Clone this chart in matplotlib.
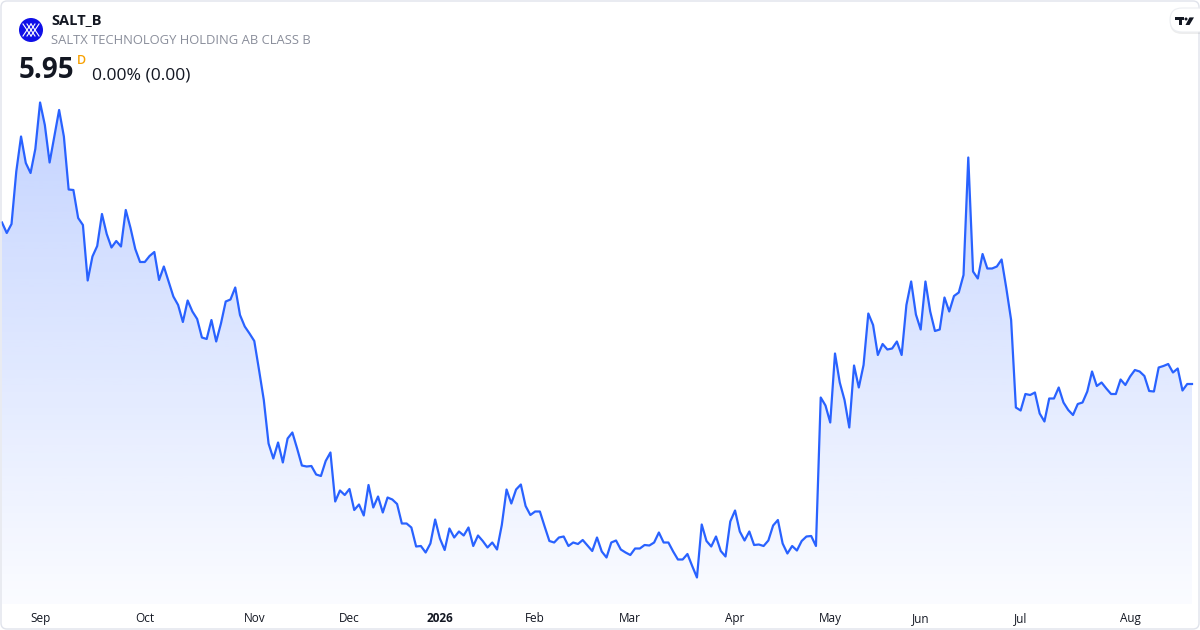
import numpy as np
import matplotlib
matplotlib.use("Agg")
import matplotlib.pyplot as plt
from matplotlib.patches import FancyBboxPatch, Circle, Polygon, Rectangle

plt.rcParams['font.family'] = ['Open Sans', 'DejaVu Sans']

# daily closes, one per trading day (Aug 20 2025 .. Aug 20 2026)
prices = [
    9.18, 8.97, 9.15, 10.20, 10.90, 10.37, 10.17, 10.65, 11.58, 11.13,
    10.38, 10.90, 11.43, 10.90, 9.84, 9.83, 9.27, 9.13, 8.02, 8.50,
    8.71, 9.35, 8.95, 8.68, 8.81, 8.70, 9.43, 9.07, 8.65, 8.39,
    8.39, 8.51, 8.59, 8.03, 8.30, 8.00, 7.70, 7.53, 7.19, 7.62,
    7.40, 7.25, 6.88, 6.85, 7.23, 6.80, 7.16, 7.60, 7.64, 7.88,
    7.33, 7.10, 6.96, 6.81, 6.23, 5.63, 4.76, 4.46, 4.78, 4.38,
    4.86, 4.98, 4.66, 4.32, 4.30, 4.31, 4.14, 4.11, 4.41, 4.58,
    3.60, 3.82, 3.73, 3.85, 3.43, 3.54, 3.32, 3.93, 3.48, 3.70,
    3.38, 3.68, 3.64, 3.55, 3.16, 3.16, 3.08, 2.70, 2.71, 2.58,
    2.76, 3.24, 2.86, 2.63, 3.06, 2.88, 3.00, 2.92, 3.08, 2.71,
    2.92, 2.81, 2.68, 2.78, 2.64, 3.13, 3.84, 3.56, 3.84, 3.94,
    3.51, 3.33, 3.40, 3.40, 3.10, 2.81, 2.78, 2.88, 2.90, 2.71,
    2.78, 2.75, 2.83, 2.72, 2.61, 2.88, 2.60, 2.48, 2.78, 2.82,
    2.64, 2.58, 2.53, 2.66, 2.66, 2.73, 2.72, 2.78, 2.98, 2.78,
    2.78, 2.60, 2.44, 2.44, 2.55, 2.31, 2.08, 3.14, 2.81, 2.70,
    2.90, 2.61, 2.50, 3.20, 3.42, 3.00, 2.82, 3.00, 2.73, 2.74,
    2.71, 2.82, 3.12, 3.23, 2.76, 2.56, 2.71, 2.62, 2.81, 2.90,
    2.91, 2.71, 5.68, 5.52, 5.18, 6.56, 5.98, 5.63, 5.08, 6.32,
    5.88, 6.33, 7.36, 7.13, 6.53, 6.75, 6.64, 6.66, 6.80, 6.53,
    7.53, 8.00, 7.34, 7.04, 8.00, 7.40, 7.01, 7.04, 7.68, 7.40,
    7.71, 7.78, 8.13, 10.48, 8.20, 8.06, 8.55, 8.26, 8.26, 8.30,
    8.44, 7.86, 7.23, 5.48, 5.42, 5.75, 5.73, 5.78, 5.36, 5.20,
    5.66, 5.66, 5.88, 5.58, 5.43, 5.33, 5.55, 5.58, 5.80, 6.20,
    5.91, 5.98, 5.86, 5.75, 5.75, 6.04, 5.93, 6.10, 6.23, 6.20,
    6.11, 5.81, 5.80, 6.28, 6.31, 6.35, 6.18, 6.26, 5.82, 5.95,
    5.95,
]

# bar index of the first trading day of each month
month_pos = [8, 30, 53, 73, 92, 112, 132, 154, 174, 193, 214, 237]
month_labels = ['Sep', 'Oct', 'Nov', 'Dec', '2026', 'Feb', 'Mar', 'Apr',
                'May', 'Jun', 'Jul', 'Aug']

ticker = 'SALT_B'
name = 'SALTX TECHNOLOGY HOLDING AB CLASS B'
last = prices[-1]
chg = last - prices[-2]
chg_pct = chg / prices[-2] * 100

line_color = '#2962FF'

fig = plt.figure(figsize=(12, 6.3), dpi=100)
fig.patch.set_facecolor('white')

ax = fig.add_axes([0, 26 / 630, 1, 514 / 630])
x = np.arange(len(prices))
ymin, ymax = 1.55, 11.83
ax.set_xlim(-2 / 4.76, 250 + 8 / 4.76)
ax.set_ylim(ymin, ymax)

# gradient fill under the line
poly = ax.fill_between(x, prices, ymin, facecolor='none', edgecolor='none')
grad = np.zeros((256, 1, 4))
grad[:, 0, 0] = 41 / 255
grad[:, 0, 1] = 98 / 255
grad[:, 0, 2] = 1.0
grad[:, 0, 3] = np.linspace(0.28, 0.02, 256)
img = ax.imshow(grad, aspect='auto', origin='upper',
                extent=[x[0], x[-1], ymin, max(prices)], zorder=1)
img.set_clip_path(poly.get_paths()[0], transform=ax.transData)

ax.plot(x, prices, color=line_color, lw=1.6, zorder=2, solid_joinstyle='round')

for s in ax.spines.values():
    s.set_visible(False)
ax.set_yticks([])
ax.set_xticks(month_pos)
ax.set_xticklabels(month_labels, fontsize=8.5, color='#131722')
ax.tick_params(axis='x', length=0, pad=5.5)
ax.get_xticklabels()[4].set_fontweight('bold')
ax.set_facecolor('none')

# card border
card = FancyBboxPatch((1, 1), 1198, 628, boxstyle='round,pad=0,rounding_size=6',
                      transform=None, facecolor='none', edgecolor='#e0e3eb', lw=1,
                      zorder=10)
fig.patches.append(card)

# logo
fig.patches.append(Circle((31, 630 - 30), 12, transform=None,
                          facecolor='#1010e8', edgecolor='none'))
for dx in (-4, 0, 4):
    fig.lines.append(plt.Line2D([31 + dx - 4, 31 + dx + 4], [630 - 36, 630 - 24],
                                transform=None, color='white', lw=0.8))
    fig.lines.append(plt.Line2D([31 + dx + 4, 31 + dx - 4], [630 - 36, 630 - 24],
                                transform=None, color='white', lw=0.8))

fig.text(51 / 1200, 1 - 20 / 630, ticker, fontsize=10.5, fontweight='bold',
         color='#131722', va='center', ha='left')
fig.text(51 / 1200, 1 - 40 / 630, name, fontsize=9.4, color='#8a8e9b',
         va='center', ha='left')
fig.text(19 / 1200, 1 - 71 / 630, f'{last:.2f}', fontsize=20, fontweight='bold',
         color='#131722', va='center', ha='left')
fig.text(77 / 1200, 1 - 61 / 630, 'D', fontsize=9, fontweight='semibold',
         color='#f7a000', va='center', ha='left')
fig.text(92 / 1200, 1 - 75 / 630, f'{chg_pct:.2f}% ({chg:.2f})', fontsize=12.6,
         color='#131722', va='center', ha='left')

# TradingView badge
H = 630
shadow = FancyBboxPatch((1170, H - 34), 40, 25, boxstyle='round,pad=0,rounding_size=12',
                        transform=None, facecolor='#000000', alpha=0.07,
                        edgecolor='none', zorder=11)
badge = FancyBboxPatch((1170, H - 32), 40, 24, boxstyle='round,pad=0,rounding_size=12',
                       transform=None, facecolor='white', edgecolor='#eceef2', lw=0.8,
                       zorder=12)
fig.patches.extend([shadow, badge])
fig.patches.append(Rectangle((1175, H - 20), 9, 2.6, transform=None,
                             facecolor='#131722', zorder=13))
fig.patches.append(Rectangle((1179, H - 25), 3.2, 7.5, transform=None,
                             facecolor='#131722', zorder=13))
fig.patches.append(Circle((1186, H - 19), 1.5, transform=None,
                          facecolor='#131722', zorder=13))
fig.patches.append(Polygon([(1189.5, H - 17.4), (1194, H - 17.4), (1189.5, H - 25),
                            (1185.5, H - 25)], closed=True, transform=None,
                           facecolor='#131722', zorder=13))

fig.savefig('out.png', dpi=100, facecolor='white')
